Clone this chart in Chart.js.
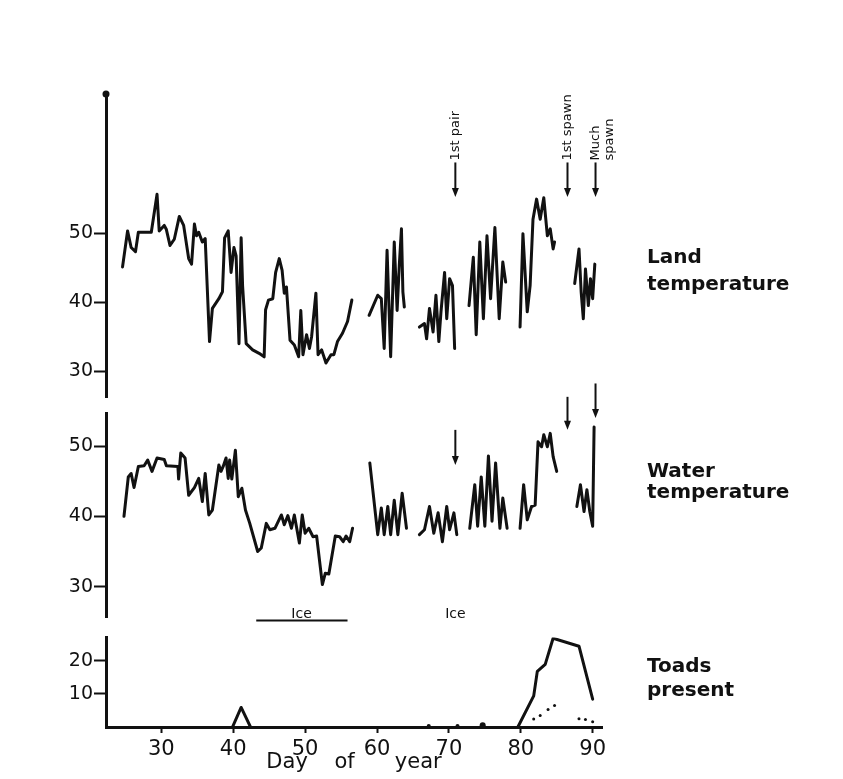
<!DOCTYPE html>
<html>
<head>
<meta charset="utf-8">
<script src="https://cdn.jsdelivr.net/npm/chart.js@4.4.1/dist/chart.umd.min.js"></script>
<style>
  html, body { margin: 0; background: #fff; }
  #wrap { position: relative; width: 843px; height: 779px; overflow: hidden; background: #fff; }
  canvas { position: absolute; left: 0; }
  .side { position: absolute; left: 647px; font: bold 20px "DejaVu Sans"; line-height: 20px; color: #111; white-space: nowrap; }
</style>
</head>
<body>
<div id="wrap">
  <canvas id="land" width="843" height="410" style="top:0"></canvas>
  <canvas id="water" width="843" height="260" style="top:370px"></canvas>
  <canvas id="toads" width="843" height="154" style="top:625px"></canvas>
  <div class="side" style="top:246px">Land</div>
  <div class="side" style="top:273px">temperature</div>
  <div class="side" style="top:460px">Water</div>
  <div class="side" style="top:481px">temperature</div>
  <div class="side" style="top:655px">Toads</div>
  <div class="side" style="top:679px">present</div>
</div>
<script>
const INK = '#111';
const X_MIN = 22.3, X_MAX = 91.3;
const X_TICKS = [30, 40, 50, 60, 70, 80, 90];
const TEMP_TICKS = [30, 40, 50];
const TOAD_TICKS = [10, 20];

// null marks a break in the record
const LAND_DAYS = [24.6, 25.3, 25.8, 26.4, 26.8, 28.6, 29.4, 29.7, 30.4, 30.7, 31.2, 31.8, 32.5, 33.1, 33.8, 34.2,
  34.6, 34.9, 35.2, 35.7, 36.1, 36.7, 37.1, 38.0, 38.5, 38.8, 39.3, 39.7, 40.1, 40.4, 40.8, 41.1, 41.3, 41.8,
  42.7, 43.6, 44.3, 44.5, 44.9, 45.5, 45.9, 46.4, 46.8, 47.1, 47.4, 47.9, 48.5, 49.1, 49.4, 49.7, 50.2, 50.6,
  50.9, 51.5, 51.8, 52.3, 52.9, 53.6, 54.0, 54.5, 55.2, 55.9, 56.5, null,
  58.9, 60.1, 60.6, 61.0, 61.4, 61.9, 62.4, 62.8, 63.1, 63.4, 63.6, 63.8, null,
  65.9, 66.6, 66.9, 67.3, 67.8, 68.2, 68.6, 68.9, 69.4, 69.7, 70.1, 70.5, 70.8, null,
  72.8, 73.4, 73.8, 74.3, 74.8, 75.3, 75.8, 76.4, 77.0, 77.5, 77.9, null,
  79.9, 80.3, 80.9, 81.3, 81.7, 82.2, 82.7, 83.2, 83.7, 84.1, 84.5, 84.7, null,
  87.5, 88.1, 88.4, 88.7, 89.0, 89.4, 89.7, 90.0, 90.3];
const LAND_TEMP = [45.1, 50.3, 47.9, 47.3, 50.1, 50.1, 55.6, 50.3, 51.1, 50.5, 48.2, 49.1, 52.4, 51.1, 46.3, 45.5,
  51.3, 49.6, 50.1, 48.7, 49.2, 34.3, 39.1, 40.5, 41.5, 49.3, 50.3, 44.3, 47.9, 46.7, 34.0, 49.3, 42.4, 34.0,
  33.1, 32.6, 32.1, 38.9, 40.3, 40.5, 44.3, 46.3, 44.6, 41.3, 42.2, 34.5, 33.8, 32.1, 38.8, 32.4, 35.3, 33.3,
  35.0, 41.3, 32.4, 33.1, 31.2, 32.4, 32.4, 34.3, 35.5, 37.2, 40.3, null,
  38.1, 41.0, 40.5, 33.3, 47.5, 32.1, 48.7, 38.8, 45.3, 50.6, 41.5, 39.3, null,
  36.4, 36.9, 34.7, 39.1, 35.7, 41.0, 34.3, 38.6, 44.3, 37.6, 43.4, 42.4, 33.3, null,
  39.5, 46.5, 35.3, 48.7, 37.6, 49.6, 40.5, 50.8, 37.6, 45.8, 42.9, null,
  36.4, 49.9, 38.6, 42.4, 52.0, 54.9, 52.0, 55.1, 49.6, 50.6, 47.7, 48.7, null,
  42.7, 47.7, 41.5, 37.6, 44.8, 39.5, 43.4, 40.5, 45.5];

const WATER_DAYS = [24.8, 25.4, 25.8, 26.2, 26.8, 27.6, 28.1, 28.7, 29.4, 30.4, 30.7, 32.3, 32.4, 32.7, 33.3, 33.8,
  34.6, 35.2, 35.7, 36.1, 36.6, 37.1, 38.0, 38.3, 38.6, 39.0, 39.3, 39.5, 39.8, 40.3, 40.7, 41.2, 41.7, 42.3,
  43.4, 43.9, 44.6, 45.1, 45.8, 46.7, 47.1, 47.6, 48.1, 48.5, 48.8, 49.2, 49.6, 50.0, 50.5, 51.1, 51.6, 52.4,
  52.8, 53.3, 54.2, 54.8, 55.3, 55.7, 56.2, 56.6, null,
  59.0, 60.1, 60.6, 61.0, 61.5, 61.9, 62.4, 62.9, 63.5, 64.1, null,
  65.9, 66.6, 67.3, 67.9, 68.5, 69.1, 69.7, 70.1, 70.7, 71.1, null,
  72.9, 73.6, 74.0, 74.5, 75.0, 75.5, 76.0, 76.5, 77.1, 77.5, 78.1, null,
  79.9, 80.4, 80.9, 81.5, 82.0, 82.4, 82.9, 83.2, 83.7, 84.1, 84.5, 85.0, null,
  87.8, 88.3, 88.8, 89.2, 89.6, 90.0, 90.2];
const WATER_TEMP = [40.0, 45.6, 46.1, 44.1, 47.1, 47.2, 48.0, 46.4, 48.3, 48.1, 47.2, 47.1, 45.3, 49.0, 48.3, 43.0,
  44.1, 45.4, 42.1, 46.1, 40.2, 40.9, 47.3, 46.4, 47.1, 48.3, 45.4, 48.0, 45.3, 49.4, 42.8, 44.0, 40.9, 39.0,
  35.0, 35.5, 39.0, 38.1, 38.3, 40.2, 38.8, 40.1, 38.3, 40.2, 38.5, 36.2, 40.2, 37.6, 38.3, 37.1, 37.2, 30.3,
  31.9, 31.8, 37.2, 37.1, 36.4, 37.2, 36.4, 38.3, null,
  47.6, 37.4, 41.2, 37.4, 41.4, 37.4, 42.3, 37.4, 43.3, 38.3, null,
  37.4, 38.1, 41.4, 37.6, 40.5, 36.4, 41.4, 38.1, 40.5, 37.4, null,
  38.3, 44.5, 38.6, 45.6, 38.6, 48.6, 39.3, 47.6, 38.3, 42.6, 38.3, null,
  38.3, 44.5, 39.5, 41.4, 41.6, 50.6, 49.9, 51.6, 49.9, 51.8, 48.5, 46.4, null,
  41.4, 44.5, 40.7, 43.8, 40.7, 38.6, 52.7];

const TOAD_DAYS = [39.9, 41.1, 42.4, null, 79.6, 81.8, 82.3, 83.4, 84.5, 88.1, 90.0];
const TOAD_COUNT = [0, 5.9, 0, null, 0, 9.4, 16.8, 18.9, 26.8, 24.4, 8.4];
const TOAD_DOT_DAYS = [81.8, 82.7, 83.8, 84.7, 88.1, 89.0, 90.0];
const TOAD_DOTS = [2.4, 3.5, 5.3, 6.5, 2.5, 2.3, 1.6];
const TOAD_TRACE_DAYS = [67.2, 71.2, 74.7];
const TOAD_TRACE = [0.3, 0.3, 0.5];

const EVENT_DAYS = [70.9, 86.5, 90.4];
const EVENT_LABELS = [['1st pair'], ['1st spawn'], ['Much', 'spawn']];
const LAND_ARROW_FROM = [60.2, 60.2, 60.2];
const LAND_ARROW_TO = [55.2, 55.2, 55.2];
const WATER_ARROW_FROM = [52.3, 57.0, 58.9];
const WATER_ARROW_TO = [47.3, 52.3, 54.0];
const ICE_BAR_DAYS = [43.2, 55.9];
const ICE_BAR_LEVEL = 25.2;
const ICE_LABEL_DAYS = [49.5, 70.9];
const ICE_LABEL_LEVEL = 25.6;

Chart.defaults.font.family = '"DejaVu Sans"';
Chart.defaults.color = INK;

function points(days, vals) {
  return days.map((d, i) => ({ x: d, y: vals[i] }));
}

function trace(data) {
  return {
    data, borderColor: INK, borderWidth: 3, pointRadius: 0, tension: 0, spanGaps: false,
    borderJoinStyle: 'round', borderCapStyle: 'round'
  };
}

function yAxis(min, max, ticks) {
  return {
    type: 'linear', min, max,
    afterFit: s => { s.width = 106; },
    afterBuildTicks: s => { s.ticks = ticks.map(v => ({ value: v })); },
    grid: { drawOnChartArea: false, tickLength: 12, tickWidth: 2, tickColor: INK },
    border: { display: true, color: INK, width: 3 },
    ticks: { color: INK, padding: 1, font: { size: 19 } }
  };
}

const hiddenX = { type: 'linear', min: X_MIN, max: X_MAX, display: false };

function arrow(ctx, x, y0, y1) {
  ctx.lineWidth = 2;
  ctx.beginPath(); ctx.moveTo(x, y0); ctx.lineTo(x, y1 - 6); ctx.stroke();
  ctx.beginPath();
  ctx.moveTo(x - 3.5, y1 - 9); ctx.lineTo(x + 3.5, y1 - 9); ctx.lineTo(x, y1);
  ctx.closePath(); ctx.fill();
}

const landNotes = {
  id: 'landNotes',
  afterDraw(chart) {
    const { ctx, chartArea, scales: { x, y } } = chart;
    ctx.save();
    ctx.fillStyle = INK; ctx.strokeStyle = INK;
    ctx.beginPath(); ctx.arc(chartArea.left, chartArea.top, 3.5, 0, Math.PI * 2); ctx.fill();
    ctx.font = '13px "DejaVu Sans"';
    EVENT_DAYS.forEach((d, i) => {
      const px = x.getPixelForValue(d);
      const top = y.getPixelForValue(LAND_ARROW_FROM[i]);
      arrow(ctx, px, top, y.getPixelForValue(LAND_ARROW_TO[i]));
      EVENT_LABELS[i].forEach((t, k) => {
        ctx.save();
        ctx.translate(px + k * 14, top - 2);
        ctx.rotate(-Math.PI / 2);
        ctx.textAlign = 'left'; ctx.textBaseline = 'middle';
        ctx.fillText(t, 0, 0);
        ctx.restore();
      });
    });
    ctx.restore();
  }
};

const waterNotes = {
  id: 'waterNotes',
  afterDraw(chart) {
    const { ctx, scales: { x, y } } = chart;
    ctx.save();
    ctx.fillStyle = INK; ctx.strokeStyle = INK;
    EVENT_DAYS.forEach((d, i) => {
      arrow(ctx, x.getPixelForValue(d), y.getPixelForValue(WATER_ARROW_FROM[i]), y.getPixelForValue(WATER_ARROW_TO[i]));
    });
    ctx.lineWidth = 2;
    const iy = y.getPixelForValue(ICE_BAR_LEVEL);
    ctx.beginPath();
    ctx.moveTo(x.getPixelForValue(ICE_BAR_DAYS[0]), iy);
    ctx.lineTo(x.getPixelForValue(ICE_BAR_DAYS[1]), iy);
    ctx.stroke();
    ctx.font = '14px "DejaVu Sans"';
    ctx.textAlign = 'center'; ctx.textBaseline = 'alphabetic';
    ICE_LABEL_DAYS.forEach(d => ctx.fillText('Ice', x.getPixelForValue(d), y.getPixelForValue(ICE_LABEL_LEVEL)));
    ctx.restore();
  }
};

const common = {
  responsive: false,
  animation: false,
  plugins: { legend: { display: false }, tooltip: { enabled: false } }
};

new Chart(document.getElementById('land'), {
  type: 'line',
  data: { datasets: [trace(points(LAND_DAYS, LAND_TEMP))] },
  options: {
    ...common,
    layout: { padding: { top: 94, bottom: 10, left: 0, right: 241 } },
    scales: { x: hiddenX, y: yAxis(26.2, 70.1, TEMP_TICKS) }
  },
  plugins: [landNotes]
});

new Chart(document.getElementById('water'), {
  type: 'line',
  data: { datasets: [trace(points(WATER_DAYS, WATER_TEMP))] },
  options: {
    ...common,
    layout: { padding: { top: 43, bottom: 12, left: 0, right: 241 } },
    scales: { x: hiddenX, y: yAxis(25.6, 54.7, TEMP_TICKS) }
  },
  plugins: [waterNotes]
});

new Chart(document.getElementById('toads'), {
  type: 'line',
  data: {
    datasets: [
      trace(points(TOAD_DAYS, TOAD_COUNT)),
      { data: points(TOAD_DOT_DAYS, TOAD_DOTS), showLine: false, pointRadius: 1.5, pointBackgroundColor: INK, pointBorderWidth: 0 },
      { data: points(TOAD_TRACE_DAYS, TOAD_TRACE), showLine: false, pointRadius: [2, 2, 3], pointBackgroundColor: INK, pointBorderWidth: 0 }
    ]
  },
  options: {
    ...common,
    layout: { padding: { top: 10, bottom: 0, left: 0, right: 241 } },
    scales: {
      x: {
        type: 'linear', min: X_MIN, max: X_MAX,
        afterFit: s => { s.height = 52; },
        afterBuildTicks: s => { s.ticks = X_TICKS.map(v => ({ value: v })); },
        grid: { drawOnChartArea: false, tickLength: 6, tickWidth: 2, tickColor: INK },
        border: { display: true, color: INK, width: 3 },
        ticks: { color: INK, padding: 4, font: { size: 21 } },
        title: { display: true, text: 'Day    of      year', color: INK, font: { size: 21 }, padding: { top: 0, bottom: 4 } }
      },
      y: yAxis(0, 27.06, TOAD_TICKS)
    }
  }
});
</script>
</body>
</html>
